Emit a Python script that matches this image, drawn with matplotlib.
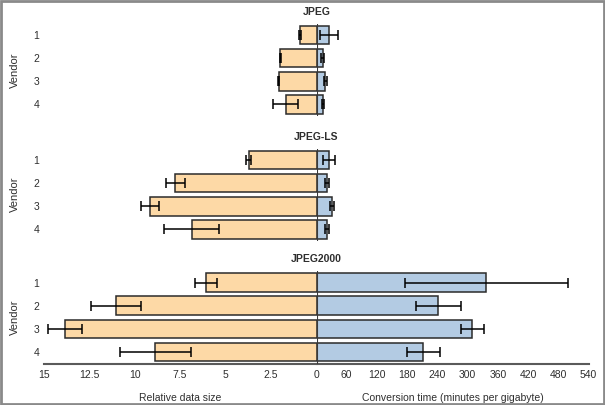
import matplotlib
matplotlib.use('Agg')
from matplotlib import pyplot as plt

plt.rcParams['font.family'] = ['Liberation Sans', 'DejaVu Sans']

formats = ['JPEG', 'JPEG-LS', 'JPEG2000']
vendors = ['1', '2', '3', '4']

# relative data size (mean, error) per format, vendors 1..4
size_mean = {
    'JPEG': [0.91, 1.99, 2.08, 1.70],
    'JPEG-LS': [3.73, 7.77, 9.17, 6.87],
    'JPEG2000': [6.07, 11.03, 13.83, 8.87],
}
size_err = {
    'JPEG': [0.05, 0.03, 0.03, 0.70],
    'JPEG-LS': [0.12, 0.52, 0.49, 1.53],
    'JPEG2000': [0.60, 1.39, 0.94, 1.95],
}

# conversion time in minutes per gigabyte
time_mean = {
    'JPEG': [25.3, 12.3, 17.6, 13.8],
    'JPEG-LS': [25.3, 21.4, 31.4, 21.4],
    'JPEG2000': [337.0, 242.0, 309.4, 212.2],
}
time_err = {
    'JPEG': [18.0, 2.5, 2.5, 2.0],
    'JPEG-LS': [12.0, 4.0, 4.0, 4.0],
    'JPEG2000': [162.0, 45.0, 22.6, 32.5],
}

size_ticks = [15, 12.5, 10, 7.5, 5, 2.5, 0]
size_ticklabels = ['15', '12.5', '10', '7.5', '5', '2.5', '0']
time_ticks = [60, 120, 180, 240, 300, 360, 420, 480, 540]

orange = '#fdd9a6'
blue = '#b3cbe3'
edge = '#2b2b2b'
text_col = '#2e2e2e'
axis_col = '#5a5a5a'

W, H = 605, 405
fig = plt.figure(figsize=(W / 100, H / 100), dpi=100)

# frame around the picture
fig.patches.append(plt.Rectangle((0.001, 0.002), 0.997, 0.995, transform=fig.transFigure,
                                 fill=False, edgecolor='#8a8a8a', linewidth=2.0))

left_px, mid_px, right_px = 43.6, 316.5, 588.6
panel_tops = [23.5, 148.5, 271.0]
panel_h = 92.5

ypos = list(range(len(vendors)))

for i, fmt in enumerate(formats):
    top = panel_tops[i]
    bottom = (H - top - panel_h) / H
    h = panel_h / H
    axl = fig.add_axes([left_px / W, bottom, (mid_px - left_px) / W, h])
    axr = fig.add_axes([mid_px / W, bottom, (right_px - mid_px) / W, h])

    axl.barh(ypos, size_mean[fmt], height=0.8, color=orange, edgecolor=edge,
             linewidth=1.1, zorder=2)
    axl.errorbar(size_mean[fmt], ypos, xerr=size_err[fmt], fmt='none', ecolor='black',
                 elinewidth=1.1, capsize=3.5, capthick=1.1, zorder=3)
    axr.barh(ypos, time_mean[fmt], height=0.8, color=blue, edgecolor=edge,
             linewidth=1.1, zorder=2)
    axr.errorbar(time_mean[fmt], ypos, xerr=time_err[fmt], fmt='none', ecolor='black',
                 elinewidth=1.1, capsize=3.5, capthick=1.1, zorder=3)
    axr.axvline(0, color='#3a3a3a', linewidth=1.5, zorder=4)

    axl.set_xlim(15, 0)
    axr.set_xlim(0, 540)
    for ax in (axl, axr):
        ax.set_ylim(3.5, -0.5)
        ax.set_facecolor('none')
        for s in ax.spines.values():
            s.set_visible(False)
        ax.tick_params(length=0, colors=text_col, labelsize=7.5)

    axl.set_yticks(ypos)
    axl.set_yticklabels(vendors)
    axl.tick_params(axis='y', pad=3)
    axl.set_ylabel('Vendor', fontsize=8, color=text_col, labelpad=10)
    axr.set_yticks([])

    fig.text(mid_px / W, 1 - (top - 11.5) / H, fmt, ha='center', va='center',
             fontsize=7.5, fontweight='bold', color=text_col)

    if i == len(formats) - 1:
        axl.set_xticks(size_ticks)
        axl.set_xticklabels(size_ticklabels)
        axr.set_xticks(time_ticks)
        for ax in (axl, axr):
            ax.spines['bottom'].set_visible(True)
            ax.spines['bottom'].set_color(axis_col)
            ax.spines['bottom'].set_linewidth(1.5)
            ax.tick_params(axis='x', pad=5)
        axl.set_xlabel('Relative data size', fontsize=7.5, color=text_col, labelpad=9)
        axr.set_xlabel('Conversion time (minutes per gigabyte)', fontsize=7.5,
                       color=text_col, labelpad=9)
    else:
        axl.set_xticks([])
        axr.set_xticks([])

fig.savefig('out.png', dpi=100)
